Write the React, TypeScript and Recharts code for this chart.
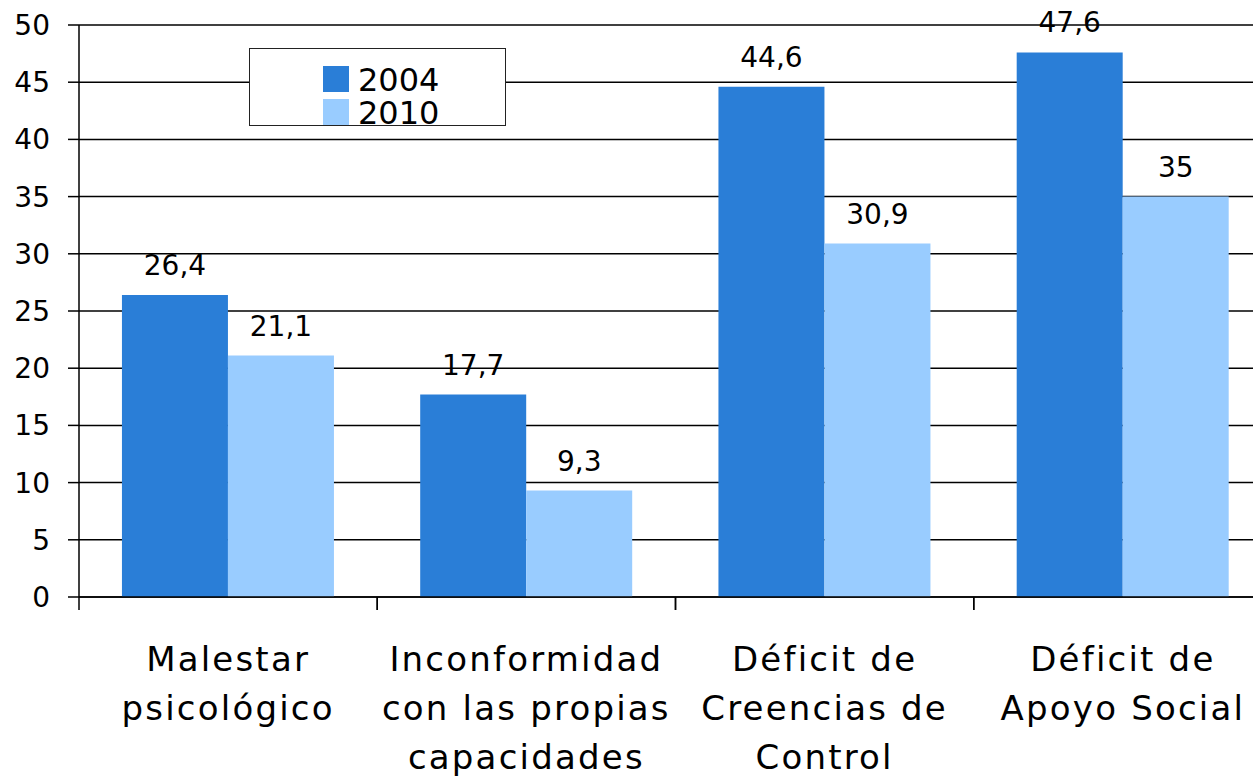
import React from 'react';
import { BarChart, Bar, XAxis, YAxis, CartesianGrid, Legend, LabelList } from 'recharts';

// category names, line breaks where the reference wraps them
const categories = [
    'Malestar\npsicológico',
    'Inconformidad\ncon las propias\ncapacidades',
    'Déficit de\nCreencias de\nControl',
    'Déficit de\nApoyo Social',
];
const values2004 = [26.4, 17.7, 44.6, 47.6];
const values2010 = [21.1, 9.3, 30.9, 35];
const yTicks = [0, 5, 10, 15, 20, 25, 30, 35, 40, 45, 50];

const DARK = '#2a7ed7';
const LIGHT = '#99ccff';
const FONT = '"DejaVu Sans", sans-serif';

const data = categories.map((name, i) => ({ name, y2004: values2004[i], y2010: values2010[i] }));

const fmt = (v: any) => String(v).replace('.', ',');

// label at the band centre, tick mark at the band's left border (Excel style)
const CatTick = (props: any) => {
    const { x, y, payload } = props;
    const half = payload.offset || 0;
    const lines = String(payload.value).split('\n');
    return (
        <g>
            <line x1={x - half} x2={x - half} y1={y} y2={y + 13} stroke="#000" strokeWidth={1.5} />
            <line x1={x + half} x2={x + half} y1={y} y2={y + 13} stroke="#000" strokeWidth={1.5} />
            <text x={x} y={y} textAnchor="middle" fill="#000" fontSize={34} fontFamily={FONT} letterSpacing={2.2}>
                {lines.map((l, i) => (
                    <tspan key={i} x={x} dy={i === 0 ? 74 : 49}>{l}</tspan>
                ))}
            </text>
        </g>
    );
};

const LegendBox = () => (
    <div style={{
        width: 257, height: 78, boxSizing: 'border-box', border: '1.5px solid #222', background: '#fff',
        position: 'relative', fontFamily: FONT, fontSize: 32, color: '#000',
    }}>
        {[{ c: DARK, t: '2004' }, { c: LIGHT, t: '2010' }].map((it, i) => (
            <div key={it.t} style={{ position: 'absolute', left: 73, top: 17 + i * 33, height: 26, display: 'flex', alignItems: 'center' }}>
                <span style={{ width: 26, height: 26, background: it.c, display: 'inline-block' }} />
                <span style={{ marginLeft: 9, lineHeight: '26px', position: 'relative', top: 1 }}>{it.t}</span>
            </div>
        ))}
    </div>
);

export default function App() {
    return (
        <div style={{ position: 'absolute', left: 0, top: 0, width: 1253, height: 778, overflow: 'hidden', background: '#fff' }}>
            <BarChart
                width={1272}
                height={778}
                data={data}
                margin={{ top: 25, right: 0, bottom: 0, left: 0 }}
                barCategoryGap="14.4%"
                barGap={0}
            >
                <CartesianGrid vertical={false} stroke="#000" strokeWidth={1.5} />
                <XAxis
                    dataKey="name"
                    height={181}
                    interval={0}
                    tickSize={0}
                    tickMargin={0}
                    tickLine={false}
                    tick={<CatTick />}
                    axisLine={{ stroke: '#000', strokeWidth: 1.5 }}
                />
                <YAxis
                    width={79}
                    domain={[0, 50]}
                    ticks={yTicks}
                    interval={0}
                    tickSize={11}
                    tickMargin={18}
                    axisLine={{ stroke: '#000', strokeWidth: 1.5 }}
                    tickLine={{ stroke: '#000', strokeWidth: 1.5 }}
                    tick={{ fill: '#000', fontSize: 28, fontFamily: FONT }}
                />
                <Legend
                    verticalAlign="middle"
                    layout="horizontal"
                    align="center"
                    content={() => <LegendBox />}
                    wrapperStyle={{ position: 'absolute', left: 249, top: 48, width: 257, height: 78 }}
                />
                <Bar dataKey="y2004" name="2004" fill={DARK} isAnimationActive={false}>
                    <LabelList dataKey="y2004" position="top" offset={20} formatter={fmt}
                        style={{ fill: '#000', fontSize: 28, fontFamily: FONT }} />
                </Bar>
                <Bar dataKey="y2010" name="2010" fill={LIGHT} isAnimationActive={false}>
                    <LabelList dataKey="y2010" position="top" offset={20} formatter={fmt}
                        style={{ fill: '#000', fontSize: 28, fontFamily: FONT }} />
                </Bar>
            </BarChart>
        </div>
    );
}
